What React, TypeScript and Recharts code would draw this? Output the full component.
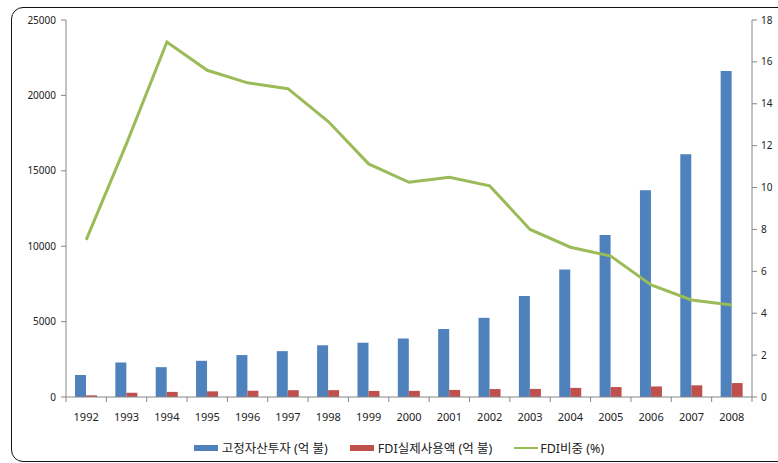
import {
  Bar,
  ComposedChart,
  Legend,
  Line,
  XAxis,
  YAxis,
} from "recharts";

const years = [
  "1992", "1993", "1994", "1995", "1996", "1997", "1998", "1999", "2000",
  "2001", "2002", "2003", "2004", "2005", "2006", "2007", "2008",
];

// 고정자산투자 (억 불)
const fixedInvestment = [
  1460, 2290, 1980, 2400, 2780, 3040, 3430, 3600, 3880,
  4510, 5250, 6700, 8460, 10740, 13710, 16100, 21620,
];

// FDI실제사용액 (억 불)
const fdiUsed = [
  110, 275, 338, 375, 417, 453, 455, 403, 407,
  469, 527, 535, 606, 660, 700, 775, 924,
];

// FDI비중 (%)
const fdiShare = [
  7.5, 12.1, 16.95, 15.6, 15.0, 14.72, 13.15, 11.13, 10.25,
  10.49, 10.08, 8.0, 7.15, 6.73, 5.35, 4.63, 4.39,
];

const leftTicks = [0, 5000, 10000, 15000, 20000, 25000];
const rightTicks = [0, 2, 4, 6, 8, 10, 12, 14, 16, 18];

const data = years.map((year, i) => ({
  year,
  investment: fixedInvestment[i],
  fdi: fdiUsed[i],
  share: fdiShare[i],
}));

const FONT = "'Noto Sans', 'Noto Sans CJK KR', sans-serif";
const AXIS = "#868686";
const BLUE = "#4F81BD";
const RED = "#C0504D";
const GREEN = "#9BBB59";

function YearTick(props: any) {
  const { x, y, payload, index } = props;
  const half = payload?.offset ?? 0;
  return (
    <g>
      <line x1={x - half} x2={x - half} y1={y} y2={y + 5} stroke={AXIS} />
      {index === years.length - 1 && (
        <line x1={x + half} x2={x + half} y1={y} y2={y + 5} stroke={AXIS} />
      )}
      <text x={x} y={y + 24} textAnchor="middle" fontSize={11} fontFamily={FONT} fill="#222">
        {payload.value}
      </text>
    </g>
  );
}

function ChartLegend() {
  const item = { display: "flex", alignItems: "center", marginRight: 22 } as const;
  const label = { fontSize: 12.5, color: "#222", fontFamily: FONT, marginLeft: 4 };
  return (
    <div style={{ display: "flex", justifyContent: "center", width: 778, paddingLeft: 20, boxSizing: "border-box" }}>
      <div style={item}>
        <span style={{ width: 24, height: 6, background: BLUE, display: "inline-block" }} />
        <span style={label}>고정자산투자 (억 불)</span>
      </div>
      <div style={item}>
        <span style={{ width: 24, height: 6, background: RED, display: "inline-block" }} />
        <span style={label}>FDI실제사용액 (억 불)</span>
      </div>
      <div style={{ ...item, marginRight: 0 }}>
        <span style={{ width: 24, height: 2, background: GREEN, display: "inline-block" }} />
        <span style={{ ...label, marginLeft: 2 }}>FDI비중 (%)</span>
      </div>
    </div>
  );
}

export default function App() {
  return (
    <div style={{ position: "absolute", left: 0, top: 0, width: 778, height: 463, overflow: "hidden", background: "#fff" }}>
      <div
        style={{
          position: "absolute",
          left: 11,
          top: 7,
          width: 800,
          height: 453,
          border: "1.5px solid #111",
          borderRadius: 12,
        }}
      />
      <ComposedChart
        width={778}
        height={463}
        data={data}
        margin={{ top: 20, right: 0, bottom: 36, left: 0 }}
        barGap={0}
        style={{ position: "absolute", left: 0, top: 0 }}
      >
        <XAxis
          dataKey="year"
          xAxisId="x"
          height={30}
          stroke={AXIS}
          tickLine={false}
          tickSize={0}
          tickMargin={0}
          interval={0}
          tick={<YearTick />}
        />
        <YAxis
          yAxisId="left"
          orientation="left"
          width={66}
          domain={[0, 25000]}
          ticks={leftTicks}
          interval={0}
          stroke={AXIS}
          tickSize={5}
          tickMargin={5}
          tick={{ fill: "#222", fontSize: 10, fontFamily: FONT }}
        />
        <YAxis
          yAxisId="right"
          orientation="right"
          width={26}
          domain={[0, 18]}
          ticks={rightTicks}
          interval={0}
          stroke={AXIS}
          tickSize={5}
          tickMargin={4}
          tick={{ fill: "#222", fontSize: 10, fontFamily: FONT }}
        />
        <Bar
          xAxisId="x"
          yAxisId="left"
          dataKey="investment"
          name="고정자산투자 (억 불)"
          fill={BLUE}
          barSize={11}
          isAnimationActive={false}
        />
        <Bar
          xAxisId="x"
          yAxisId="left"
          dataKey="fdi"
          name="FDI실제사용액 (억 불)"
          fill={RED}
          barSize={11}
          isAnimationActive={false}
        />
        <Line
          xAxisId="x"
          yAxisId="right"
          type="linear"
          dataKey="share"
          name="FDI비중 (%)"
          stroke={GREEN}
          strokeWidth={3}
          dot={false}
          isAnimationActive={false}
        />
        <Legend
          layout="horizontal"
          verticalAlign="middle"
          align="center"
          wrapperStyle={{ top: 438, left: 0, width: 778 }}
          content={() => <ChartLegend />}
        />
      </ComposedChart>
    </div>
  );
}
